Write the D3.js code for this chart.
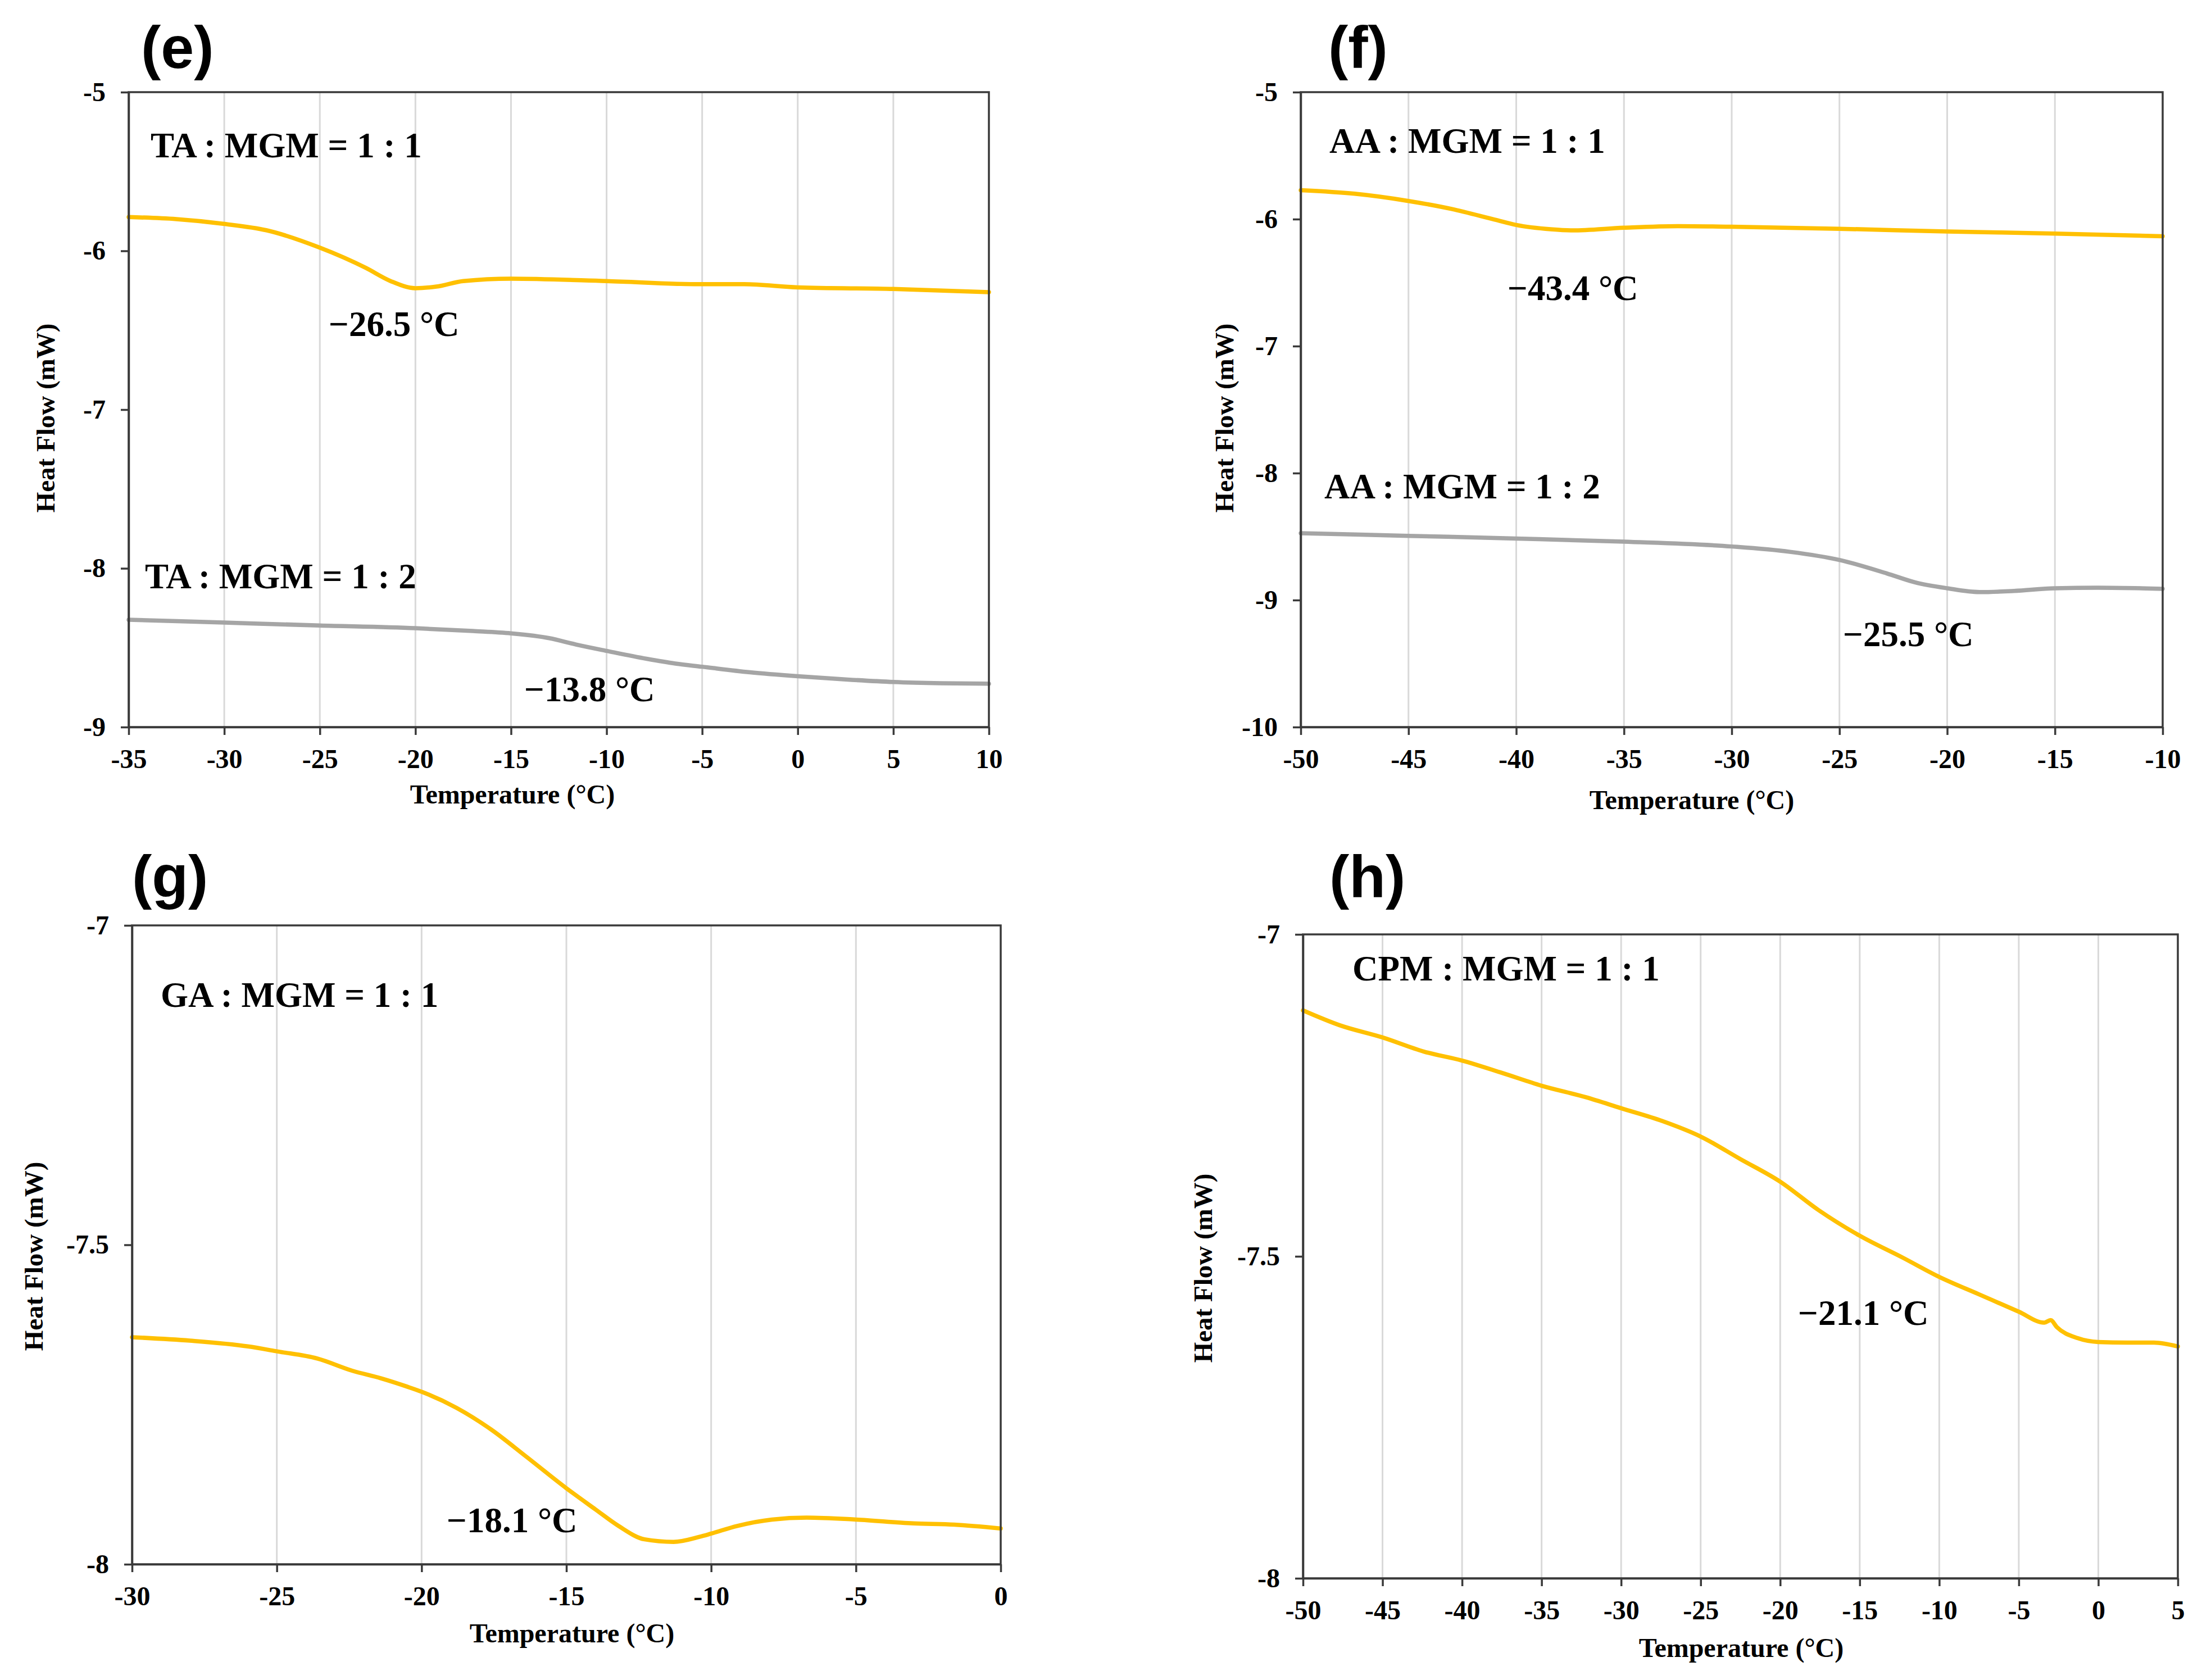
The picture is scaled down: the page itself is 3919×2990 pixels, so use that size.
<!DOCTYPE html>
<html><head><meta charset="utf-8">
<script src="https://cdn.jsdelivr.net/npm/d3@7"></script>
<style>body{margin:0;background:#fff}svg{display:block}</style>
</head><body>
<svg id="c" width="3919" height="2990"></svg>
<script>
// ---------------- data ----------------
const eXTicks = [-35,-30,-25,-20,-15,-10,-5,0,5,10];
const eYTicks = [-5,-6,-7,-8,-9];
const eTempA = [-35,-32.5,-30,-27.8,-25,-22.6,-21.3,-20,-18.9,-17.5,-15,-10,-5,-2.8,0,5,10];
const eHeatA = [-5.787,-5.80,-5.83,-5.87,-5.98,-6.107,-6.19,-6.235,-6.225,-6.19,-6.175,-6.19,-6.21,-6.21,-6.23,-6.24,-6.26];
const eTempB = [-35,-30,-25,-20,-17,-15,-13,-11.6,-10,-7.9,-6.4,-5,-2.5,0,2.5,5,7.5,10];
const eHeatB = [-8.324,-8.342,-8.36,-8.377,-8.395,-8.41,-8.44,-8.48,-8.52,-8.57,-8.60,-8.62,-8.655,-8.68,-8.70,-8.716,-8.724,-8.727];
const eNotes = ["TA : MGM = 1 : 1","\u221226.5 \u00B0C","TA : MGM = 1 : 2","\u221213.8 \u00B0C"];

const fXTicks = [-50,-45,-40,-35,-30,-25,-20,-15,-10];
const fYTicks = [-5,-6,-7,-8,-9,-10];
const fTempA = [-50,-47.5,-45,-43,-41,-40,-38.4,-37.4,-35,-32.5,-30,-25,-20,-15,-10];
const fHeatA = [-5.772,-5.80,-5.857,-5.92,-6.004,-6.046,-6.08,-6.089,-6.068,-6.055,-6.06,-6.076,-6.097,-6.114,-6.135];
const fTempB = [-50,-45,-40,-35,-30,-27.3,-25,-22.8,-21.5,-20,-18.5,-16.9,-15,-13,-10];
const fHeatB = [-8.473,-8.494,-8.515,-8.54,-8.578,-8.62,-8.684,-8.79,-8.86,-8.907,-8.937,-8.928,-8.907,-8.903,-8.911];
const fNotes = ["AA : MGM = 1 : 1","\u221243.4 \u00B0C","AA : MGM = 1 : 2","\u221225.5 \u00B0C"];

const gXTicks = [-30,-25,-20,-15,-10,-5,0];
const gYTicks = [-7,-7.5,-8];
const gTemp = [-30,-28,-26,-24.96,-23.6,-22.4,-21.4,-20.5,-20,-18.8,-17.6,-16.4,-15,-14,-13.2,-12.3,-11.3,-10.4,-10,-9.1,-7.9,-6.7,-5,-3,-1.6,0];
const gHeat = [-7.6446,-7.650,-7.659,-7.667,-7.678,-7.697,-7.709,-7.722,-7.730,-7.755,-7.789,-7.831,-7.881,-7.914,-7.940,-7.961,-7.965,-7.957,-7.952,-7.940,-7.930,-7.927,-7.930,-7.936,-7.938,-7.944];
const gNotes = ["GA : MGM = 1 : 1","\u221218.1 \u00B0C"];

const hXTicks = [-50,-45,-40,-35,-30,-25,-20,-15,-10,-5,0,5];
const hYTicks = [-7,-7.5,-8];
const hTemp = [-50,-47.7,-45,-42.4,-40,-37.5,-35,-32.2,-30,-27.4,-25,-22.5,-20,-17.6,-15,-12.3,-10,-7.5,-5,-3.4,-3.0,-2.6,-1.3,0,1.8,3.5,5];
const hHeat = [-7.118,-7.141,-7.160,-7.182,-7.196,-7.215,-7.235,-7.253,-7.270,-7.290,-7.314,-7.349,-7.384,-7.428,-7.468,-7.502,-7.532,-7.559,-7.586,-7.603,-7.599,-7.610,-7.627,-7.633,-7.634,-7.634,-7.640];
const hNotes = ["CPM : MGM = 1 : 1","\u221221.1 \u00B0C"];

const xTitle = "Temperature (\u00B0C)";
const yTitle = "Heat Flow (mW)";

// ---------------- layout / style ----------------
const YELLOW = "#FFC000", GRAY = "#A5A5A5";
const SERIF = "'Liberation Serif','Times New Roman',serif";
const SANS = "'Liberation Sans',Arial,sans-serif";

const panels = [
  {letter:"(e)", lx:251, ly:121, box:{l:229,r:1760,t:164,b:1294}, xDom:[-35,10], yDom:[-9,-5],
   xTicks:eXTicks, yTicks:eYTicks,
   series:[{x:eTempA,y:eHeatA,c:YELLOW},{x:eTempB,y:eHeatB,c:GRAY}],
   notes:[[eNotes[0],268,280],[eNotes[1],585,598],[eNotes[2],258,1047],[eNotes[3],933,1248]],
   xt:[912,1430], yt:[81,744]},
  {letter:"(f)", lx:2364, ly:121, box:{l:2315,r:3849,t:164,b:1294}, xDom:[-50,-10], yDom:[-10,-5],
   xTicks:fXTicks, yTicks:fYTicks,
   series:[{x:fTempA,y:fHeatA,c:YELLOW},{x:fTempB,y:fHeatB,c:GRAY}],
   notes:[[fNotes[0],2366,272],[fNotes[1],2683,534],[fNotes[2],2357,887],[fNotes[3],3280,1150]],
   xt:[3011,1440], yt:[2179,744]},
  {letter:"(g)", lx:235, ly:1597, box:{l:235,r:1781,t:1647,b:2784}, xDom:[-30,0], yDom:[-8,-7],
   xTicks:gXTicks, yTicks:gYTicks,
   series:[{x:gTemp,y:gHeat,c:YELLOW}],
   notes:[[gNotes[0],286,1792],[gNotes[1],795,2727]],
   xt:[1018,2923], yt:[60,2236]},
  {letter:"(h)", lx:2366, ly:1597, box:{l:2319,r:3876,t:1663,b:2809}, xDom:[-50,5], yDom:[-8,-7],
   xTicks:hXTicks, yTicks:hYTicks,
   series:[{x:hTemp,y:hHeat,c:YELLOW}],
   notes:[[hNotes[0],2407,1745],[hNotes[1],3200,2358]],
   xt:[3099,2949], yt:[2141,2257]}
];

const svg = d3.select("#c");
svg.append("rect").attr("width",3919).attr("height",2990).attr("fill","#fff");

panels.forEach(p => {
  const b = p.box;
  const x = d3.scaleLinear().domain(p.xDom).range([b.l,b.r]);
  const y = d3.scaleLinear().domain(p.yDom).range([b.b,b.t]);
  const g = svg.append("g");

  // vertical gridlines
  g.append("g").selectAll("line").data(p.xTicks.slice(1,-1)).join("line")
    .attr("x1",d=>x(d)).attr("x2",d=>x(d)).attr("y1",b.t).attr("y2",b.b)
    .attr("stroke","#D9D9D9").attr("stroke-width",3);

  // series
  p.series.forEach(s => {
    const pts = s.x.map((v,i)=>[v,s.y[i]]);
    g.append("path").datum(pts)
      .attr("d", d3.line().x(d=>x(d[0])).y(d=>y(d[1])).curve(d3.curveMonotoneX))
      .attr("fill","none").attr("stroke",s.c).attr("stroke-width",7.5)
      .attr("stroke-linejoin","round").attr("stroke-linecap","round");
  });

  // frame
  g.append("rect").attr("x",b.l).attr("y",b.t).attr("width",b.r-b.l).attr("height",b.b-b.t)
    .attr("fill","none").attr("stroke","#3a3a3a").attr("stroke-width",3.5);

  // axes
  const xa = g.append("g").attr("transform",`translate(0,${b.b})`)
    .call(d3.axisBottom(x).tickValues(p.xTicks).tickFormat(d=>String(d)).tickSize(14).tickSizeOuter(0).tickPadding(25));
  const ya = g.append("g").attr("transform",`translate(${b.l},0)`)
    .call(d3.axisLeft(y).tickValues(p.yTicks).tickFormat(d=>String(d)).tickSize(14).tickSizeOuter(0).tickPadding(27));
  [xa,ya].forEach(a=>{
    a.select(".domain").attr("stroke","#3a3a3a").attr("stroke-width",3.5);
    a.selectAll(".tick line").attr("stroke","#3a3a3a").attr("stroke-width",3.5);
    a.selectAll(".tick text").attr("fill","#000").style("font-family",SERIF)
      .style("font-weight","bold").style("font-size","48px");
  });

  // axis titles
  g.append("text").attr("x",p.xt[0]).attr("y",p.xt[1]).attr("text-anchor","middle")
    .style("font-family",SERIF).style("font-weight","bold").style("font-size","48px").text(xTitle);
  g.append("text").attr("transform",`translate(${p.yt[0]},${p.yt[1]}) rotate(-90)`)
    .attr("text-anchor","middle").attr("dy","0.35em")
    .style("font-family",SERIF).style("font-weight","bold").style("font-size","47px").text(yTitle);

  // annotations
  p.notes.forEach(n=>{
    g.append("text").attr("x",n[1]).attr("y",n[2])
      .style("font-family",SERIF).style("font-weight","bold").style("font-size","63px").text(n[0]);
  });

  // panel letter
  g.append("text").attr("x",p.lx).attr("y",p.ly)
    .style("font-family",SANS).style("font-weight","bold").style("font-size","106px").text(p.letter);
});
</script>
</body></html>
